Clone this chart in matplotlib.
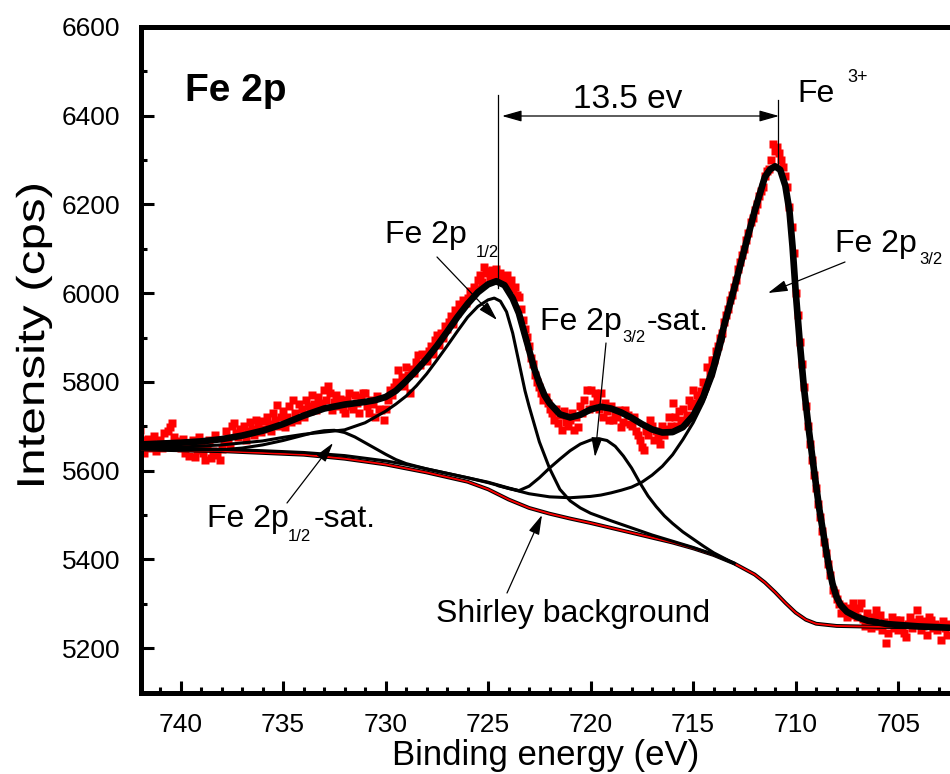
import numpy as np
import matplotlib
matplotlib.use('Agg')
import matplotlib.pyplot as plt
from matplotlib.ticker import MultipleLocator
from matplotlib.textpath import TextPath
from matplotlib.patches import PathPatch
from matplotlib.transforms import Affine2D, IdentityTransform
from matplotlib.font_manager import FontProperties

plt.rcParams['font.family'] = ['Liberation Sans', 'DejaVu Sans']

# measured spectrum, 0.1 eV steps from 742.0 eV down to 702.5 eV (one row per eV)
energy = np.round(np.arange(742.0, 702.45, -0.1), 1)
counts = [5692, 5668, 5640, 5655, 5672, 5650, 5663, 5678, 5645, 5660,
          5670, 5652, 5684, 5660, 5690, 5698, 5707, 5675, 5658, 5666,
          5650, 5672, 5640, 5660, 5632, 5655, 5668, 5630, 5646, 5675,
          5660, 5640, 5624, 5652, 5670, 5628, 5645, 5680, 5635, 5624,
          5648, 5665, 5690, 5672, 5655, 5700, 5707, 5686, 5675, 5695,
          5682, 5700, 5668, 5690, 5710, 5695, 5680, 5714, 5700, 5688,
          5712, 5695, 5722, 5705, 5690, 5730, 5714, 5748, 5700, 5720,
          5735, 5699, 5720, 5745, 5710, 5759, 5730, 5715, 5750, 5740,
          5722, 5760, 5745, 5735, 5770, 5750, 5737, 5765, 5752, 5745,
          5782, 5760, 5790, 5774, 5737, 5755, 5770, 5745, 5762, 5740,
          5730, 5760, 5774, 5745, 5738, 5770, 5752, 5729, 5765, 5774,
          5774, 5745, 5729, 5760, 5750, 5722, 5768, 5740, 5737, 5714,
          5740, 5760, 5782, 5770, 5789, 5800, 5827, 5795, 5810, 5790,
          5834, 5815, 5774, 5830, 5820, 5845, 5860, 5838, 5862, 5850,
          5848, 5870, 5880, 5862, 5895, 5905, 5884, 5910, 5900, 5925,
          5920, 5935, 5948, 5930, 5962, 5955, 5975, 5970, 5985, 5978,
          5990, 6005, 5995, 6015, 6010, 6030, 6040, 6025, 6059, 6045,
          6050, 6035, 6052, 6040, 6055, 6030, 6045, 6037, 6025, 6040,
          6020, 6030, 6010, 6014, 5995, 5992, 5965, 5940, 5920, 5902,
          5880, 5855, 5840, 5815, 5800, 5789, 5775, 5760, 5767, 5752,
          5740, 5729, 5714, 5740, 5707, 5725, 5692, 5735, 5710, 5700,
          5715, 5730, 5692, 5720, 5699, 5745, 5730, 5760, 5782, 5740,
          5782, 5750, 5774, 5760, 5740, 5774, 5720, 5752, 5735, 5714,
          5745, 5714, 5730, 5720, 5737, 5699, 5710, 5737, 5725, 5705,
          5700, 5720, 5690, 5680, 5669, 5654, 5647, 5690, 5680, 5714,
          5700, 5669, 5690, 5675, 5660, 5700, 5680, 5695, 5720, 5700,
          5752, 5720, 5700, 5735, 5715, 5740, 5710, 5725, 5760, 5745,
          5782, 5752, 5770, 5760, 5780, 5800, 5790, 5834, 5820, 5850,
          5850, 5870, 5880, 5900, 5910, 5935, 5950, 5965, 5985, 5995,
          6015, 6030, 6055, 6070, 6085, 6100, 6120, 6135, 6160, 6170,
          6187, 6200, 6220, 6230, 6240, 6265, 6275, 6280, 6300, 6337,
          6320, 6330, 6315, 6300, 6285, 6265, 6240, 6195, 6150, 6090,
          6000, 5950, 5890, 5840, 5789, 5745, 5700, 5660, 5625, 5590,
          5560, 5525, 5495, 5465, 5440, 5415, 5390, 5365, 5330, 5324,
          5310, 5300, 5279, 5295, 5285, 5270, 5290, 5275, 5301, 5285,
          5270, 5290, 5301, 5265, 5250, 5280, 5262, 5245, 5270, 5286,
          5250, 5275, 5240, 5260, 5211, 5234, 5255, 5270, 5245, 5264,
          5240, 5264, 5250, 5235, 5226, 5255, 5270, 5245, 5260, 5286,
          5265, 5240, 5250, 5262, 5230, 5270, 5264, 5245, 5255, 5240,
          5250, 5219, 5262, 5245, 5230, 5255]

# fitted envelope
env_e = [742, 741, 740, 739, 738, 737, 736, 735, 734, 733, 732, 731, 730.5, 730,
         729.5, 729, 728.5, 728, 727.5, 727, 726.5, 726, 725.5, 725, 724.6, 724.2,
         723.8, 723.5, 723.2, 723, 722.75, 722.5, 722.25, 722, 721.5, 721, 720.5,
         720, 719.5, 719, 718.5, 718, 717.5, 717, 716.5, 716, 715.5, 715, 714.5,
         714, 713.5, 713, 712.5, 712, 711.5, 711.25, 711, 710.75, 710.5, 710.3,
         710.15, 710, 709.8, 709.6, 709.35, 709.1, 708.85, 708.6, 708.4, 708.2,
         708, 707.8, 707.5, 707, 706.5, 705.5, 704, 702.5]
env_i = [5659, 5661, 5663, 5666, 5671, 5679, 5690, 5705, 5724, 5740, 5749, 5755, 5759, 5766,
         5780, 5802, 5826, 5852, 5881, 5913, 5946, 5976, 6002, 6020, 6027, 6018,
         5988, 5955, 5905, 5872, 5830, 5798, 5770, 5752, 5727, 5720, 5726,
         5738, 5744, 5740, 5731, 5719, 5705, 5693, 5686, 5687, 5698, 5724, 5767,
         5834, 5925, 6010, 6098, 6185, 6262, 6279, 6286, 6278, 6242, 6185,
         6105, 6005, 5890, 5789, 5690, 5600, 5515, 5445, 5390, 5345,
         5315, 5297, 5282, 5270, 5262, 5254, 5249, 5246]

# Shirley background
bg_e = [742, 740, 738, 736, 734, 732, 730, 728, 726, 725, 724, 723, 722, 721, 720,
        719, 718, 717, 716, 715, 714, 713, 712, 711.5, 711, 710.5, 710, 709.5,
        709, 708, 706, 704, 702.5]
bg_i = [5648, 5646, 5644, 5640, 5636, 5627, 5614, 5596, 5575, 5558, 5535, 5516, 5503, 5492, 5482,
        5471, 5460, 5449, 5438, 5425, 5410, 5391, 5366, 5348, 5326, 5302, 5280, 5264,
        5255, 5250, 5248, 5247, 5247]

# Fe 2p1/2 component (+ background)
p12_e = [742, 740, 738, 736, 735, 734, 733, 732, 731, 730, 729.5, 729, 728.5, 728,
         727.5, 727, 726.5, 726, 725.5, 725, 724.7, 724.4, 724.1, 723.8, 723.5,
         723.2, 723, 722.5, 722, 721.5, 721, 720.5, 720, 719, 718, 717, 716, 715,
         714, 713]
p12_i = [5651, 5653, 5658, 5667, 5675, 5682, 5687, 5692, 5708, 5734, 5750, 5768, 5791, 5818,
         5849, 5881, 5914, 5946, 5970, 5985, 5989, 5982, 5958, 5910, 5845,
         5780, 5745, 5665, 5605, 5558, 5532, 5516, 5504, 5487, 5471, 5455, 5441, 5427,
         5411, 5391]

# Fe 2p1/2 satellite (+ background)
s12_e = [742, 740, 738, 737, 736, 735, 734, 733.5, 733, 732.5, 732, 731.5, 731,
         730.5, 730, 729.5, 729, 728, 727, 726, 725, 724, 723.5]
s12_i = [5649, 5647, 5647, 5651, 5658, 5668, 5680, 5686, 5690, 5691, 5686, 5676, 5663,
         5650, 5637, 5625, 5616, 5604, 5594, 5584, 5574, 5561, 5555]

# Fe 2p3/2 component (+ background)
p32_e = [742, 740, 738, 736, 734, 732, 730, 729, 728, 727, 726, 725, 724, 723, 722,
         721, 720, 719.5, 719, 718.5, 718, 717.5, 717, 716.5, 716, 715.5, 715,
         714.5, 714, 713.5]
p32_i = [5652, 5650, 5648, 5645, 5641, 5634, 5622, 5614, 5604, 5594, 5584, 5573, 5560, 5548, 5541,
         5539, 5542, 5545, 5550, 5556, 5563, 5574, 5590, 5610, 5636, 5670, 5708,
         5755, 5815, 5900]

# Fe 2p3/2 satellite (+ background)
s32_e = [724.5, 724, 723.5, 723, 722.5, 722, 721.5, 721, 720.5, 720, 719.6, 719.2,
         718.8, 718.4, 718, 717.6, 717.2, 716.8, 716.4, 716, 715.5, 715, 714.5,
         714, 713.5, 713]
s32_i = [5566, 5560, 5555, 5565, 5584, 5606, 5626, 5645, 5660, 5669, 5672, 5668,
         5655, 5633, 5606, 5573, 5543, 5519, 5498, 5481, 5462, 5446, 5430,
         5415, 5403, 5391]

W, H = 950, 774
fig = plt.figure(figsize=(W / 100, H / 100), dpi=100)
ax = fig.add_axes([140.6 / W, 1 - 692.5 / H, (W - 140.6) / W, (692.5 - 27) / H])

ax.plot(energy, counts, 's', color='#ff0000', ms=6.3, mec='none', zorder=1)
ax.plot(bg_e, bg_i, color='black', lw=2.8, zorder=2)
ax.plot(bg_e, bg_i, color='#ff0000', lw=1.3, zorder=3)
for e, i in [(p12_e, p12_i), (s12_e, s12_i), (p32_e, p32_i), (s32_e, s32_i)]:
    ax.plot(e, i, color='black', lw=2.2, zorder=4)
ax.plot(env_e, env_i, color='black', lw=4.8, zorder=5, solid_capstyle='round')

ax.set_xlim(741.95, 702.47)
ax.set_ylim(5100, 6600)
ax.xaxis.set_major_locator(MultipleLocator(5))
ax.xaxis.set_minor_locator(MultipleLocator(1))
ax.yaxis.set_major_locator(MultipleLocator(200))
ax.yaxis.set_minor_locator(MultipleLocator(100))
ax.tick_params(which='both', direction='in', width=2.2, labelsize=19, pad=14.5)
ax.tick_params(which='major', length=9)
ax.tick_params(which='minor', length=4.5)
for s in ['left', 'bottom', 'top']:
    ax.spines[s].set_linewidth(3.6)
ax.spines['right'].set_visible(False)
ax.set_xlabel('Binding energy (eV)', fontsize=25, labelpad=2)

# y title, drawn a little longer than its letter height as in the original
tp = TextPath((0, 0), 'Intensity (cps)', size=38.9,
              prop=FontProperties(family='Liberation Sans'))
bb = tp.get_extents()
stretch = Affine2D().translate(-bb.x0, 0).scale(300 / bb.width, 1)
stretch.rotate_deg(90).translate(44, H - 485)
fig.add_artist(PathPatch(stretch.transform_path(tp), facecolor='black',
                         edgecolor='none', transform=IdentityTransform()))


def put(x, y, s, size, **kw):
    fig.text(x / W, 1 - y / H, s, fontsize=size, ha='left', va='baseline', **kw)


def arrow(tail, tip, style='-|>'):
    ax.annotate('', xy=(tip[0], H - tip[1]), xytext=(tail[0], H - tail[1]),
                xycoords='figure pixels', textcoords='figure pixels',
                arrowprops=dict(arrowstyle=style + ',head_length=0.6,head_width=0.17',
                                mutation_scale=20, lw=0.9, color='black',
                                shrinkA=0, shrinkB=0))


put(185, 101, 'Fe 2p', 28, fontweight='bold')
put(572.7, 108, '13.5 ev', 24)
put(797, 101.7, 'Fe', 23)
put(847, 82, '3+', 13)
put(384.6, 243, 'Fe 2p', 23)
put(476, 257, '1/2', 12)
put(540, 330, 'Fe 2p', 23)
put(622, 342, '3/2', 12)
put(647, 330, '-sat.', 23)
put(834.6, 251.7, 'Fe 2p', 23)
put(919, 264, '3/2', 12)
put(206.7, 526.7, 'Fe 2p', 23)
put(288, 540.7, '1/2', 12)
put(314, 526.7, '-sat.', 23)
put(436, 621.7, 'Shirley background', 23)

# peak markers and the 13.5 eV spacing
for x, y0, y1 in [(498, 95, 288), (778.3, 100, 165)]:
    ax.plot([x, x], [H - y0, H - y1], color='black', lw=0.9,
            transform=None, zorder=6)
arrow((502, 116), (779, 116), style='<|-|>')

arrow((437, 257), (497, 320))
arrow((606, 343), (595, 457))
arrow((845, 262), (768, 293))
arrow((287, 503), (333, 443))
arrow((507, 593), (542, 515))

plt.savefig('out.png', dpi=100)
